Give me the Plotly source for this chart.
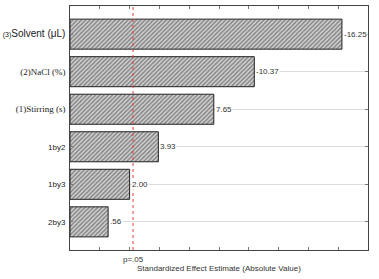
import plotly.graph_objects as go

categories = ["(3)Solvent (μL)", "(2)NaCl (%)", "(1)Stirring (s)", "1by2", "1by3", "2by3"]
effects = [16.25, 10.37, 7.65, 3.93, 2.00, 0.56]
value_labels = ["-16.25", "-10.37", "7.65", "3.93", "2.00", ".56"]
p_critical = 2.23
axis_start = -2
tick_labels = [
    "<span style='font-size:7px'>(3)</span><span style='font-size:10px'>Solvent (μL)</span>",
    "<span style='font-family:Liberation Serif;font-size:9px'>(2)NaCl (%)</span>",
    "<span style='font-family:Liberation Serif;font-size:9px'>(1)Stirring (s)</span>",
    "1by2", "1by3", "2by3",
]

fig = go.Figure()
fig.add_trace(go.Bar(
    x=[v - axis_start for v in effects], y=categories, orientation="h", width=0.8, base=axis_start,
    marker=dict(color="#c8c8c8", line=dict(color="#222", width=1),
                pattern=dict(shape="/", fgcolor="#333", bgcolor="#d4d4d4", size=3, solidity=0.5)),
    showlegend=False,
))

annotations = []
for c, v, t in zip(categories, effects, value_labels):
    annotations.append(dict(x=v, y=c, xref="x", yref="y", text=t, showarrow=False,
                            xanchor="left", xshift=1, bgcolor="white",
                            font=dict(size=8, color="#333", family="Liberation Sans"), borderpad=0))
annotations.append(dict(x=p_critical, y=0, xref="x", yref="paper", text="p=.05", showarrow=False,
                        yanchor="top", yshift=-3, font=dict(size=8, color="#333", family="Liberation Sans")))
annotations.append(dict(x=0.5, y=0, xref="paper", yref="paper", text="Standardized Effect Estimate (Absolute Value)",
                        showarrow=False, yanchor="top", yshift=-12,
                        font=dict(size=8, color="#333", family="Liberation Sans")))

fig.add_shape(type="line", x0=p_critical, x1=p_critical, y0=0, y1=1, xref="x", yref="paper",
              line=dict(color="#e04040", width=1, dash="dot"))

fig.update_layout(
    width=379, height=279,
    margin=dict(l=70, r=11, t=6, b=29, autoexpand=False),
    plot_bgcolor="white", paper_bgcolor="white",
    annotations=annotations,
    bargap=0.2,
)
fig.update_xaxes(range=[axis_start, 18], tick0=0, dtick=2, ticks="inside", ticklen=3, tickcolor="#777",
                 showticklabels=False, showgrid=False, zeroline=False, automargin=False,
                 showline=True, linecolor="#444", linewidth=1, mirror="ticks")
fig.update_yaxes(categoryorder="array", categoryarray=categories, range=[5.75, -0.75],
                 tickvals=categories, ticktext=tick_labels, automargin=False,
                 ticks="inside", ticklen=3, tickcolor="#777", ticklabelstandoff=2,
                 showgrid=True, gridcolor="#dcdcdc", gridwidth=1,
                 showline=True, linecolor="#444", linewidth=1, mirror="ticks",
                 tickfont=dict(size=8, color="#222", family="Liberation Sans"))

fig.write_html("out.html", config={"displayModeBar": False},
               post_script="document.body.style.margin='0';document.body.style.overflow='hidden';")
